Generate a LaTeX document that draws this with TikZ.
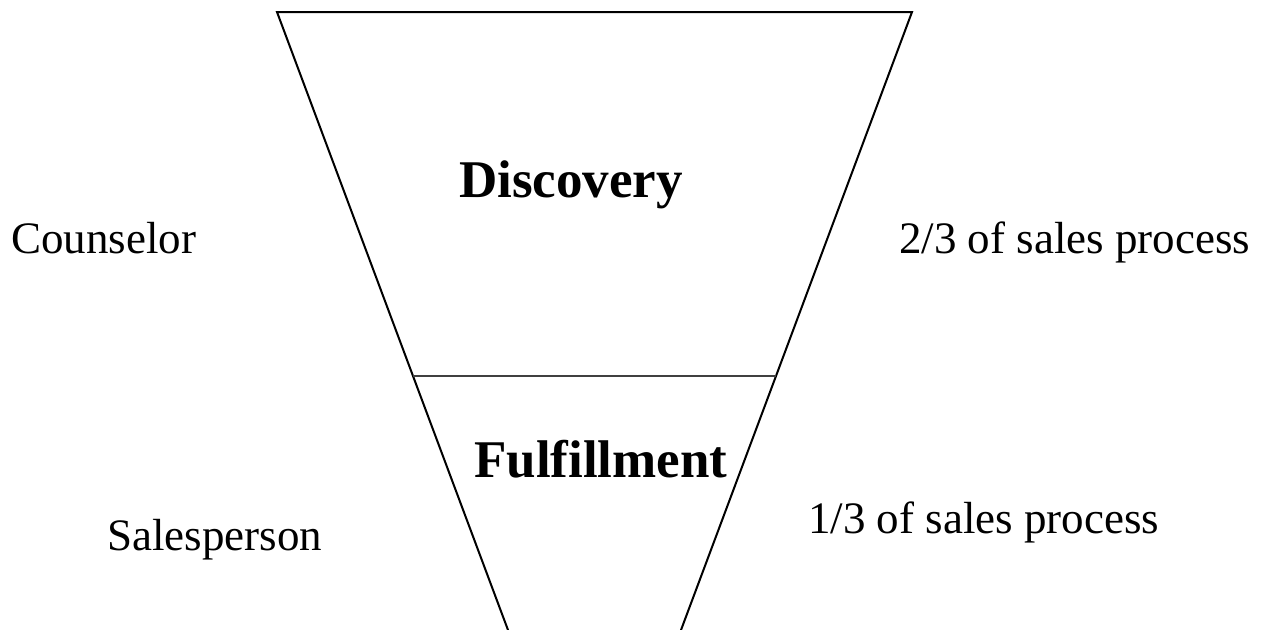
\documentclass[tikz,border=0pt]{standalone}
\usepackage{fontspec}
\setmainfont{Liberation Serif}
\begin{document}
\begin{tikzpicture}[x=1pt,y=-1pt,
  edge/.style={line width=2pt,line cap=round},
  mid/.style={line width=2pt,draw=black!75},
  side/.style={anchor=base west,inner sep=0pt,font=\fontsize{45}{50}\selectfont},
  title/.style={anchor=base west,inner sep=0pt,font=\fontsize{53}{58}\selectfont\bfseries}]
\useasboundingbox (0,0) rectangle (1274,629);
\clip (0,0) rectangle (1274,629);
\coordinate (tl) at (277,12);
\coordinate (tr) at (912,12);
\coordinate (ml) at (413,376);
\coordinate (mr) at (776,376);
\coordinate (bl) at (508,630);
\coordinate (br) at (681,630);
\draw[edge] (bl) -- (ml) -- (tl) -- (tr) -- (mr) -- (br);
\draw[mid] (ml) -- (mr);
\node[title] (disc) at (459,197) {Discovery};
\node[title] (fulf) at (474,477) {Fulfillment};
\node[side] (couns) at (11,253) {Counselor};
\node[side] (sales) at (107,550) {Salesperson};
\node[side] (two) at (899,253) {2/3 of sales process};
\node[side] (one) at (808,533) {1/3 of sales process};
\end{tikzpicture}
\end{document}
